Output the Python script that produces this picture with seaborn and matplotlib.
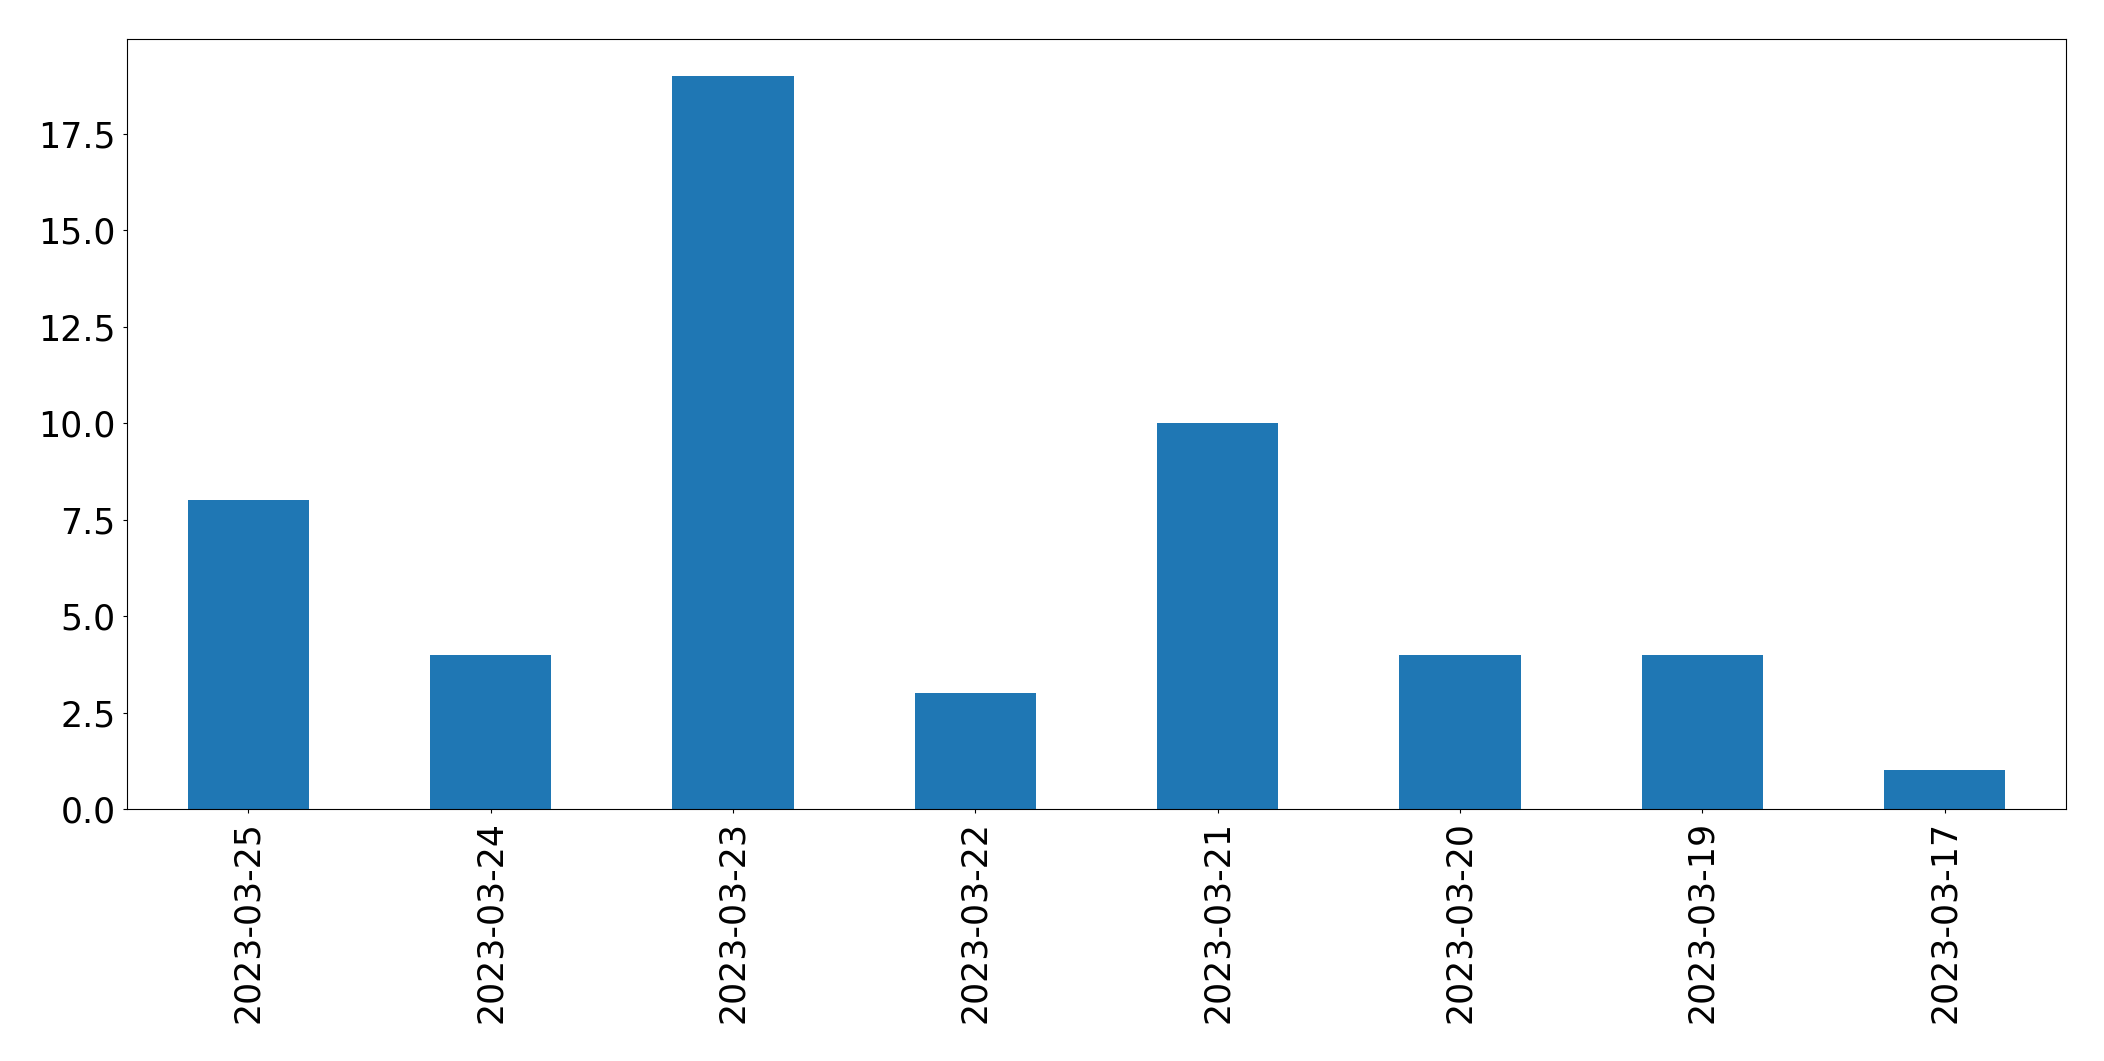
import matplotlib
matplotlib.use("Agg")
import matplotlib.pyplot as plt
import pandas as pd
import seaborn as sns

dates = ["2023-03-25", "2023-03-24", "2023-03-23", "2023-03-22",
         "2023-03-21", "2023-03-20", "2023-03-19", "2023-03-17"]
counts = [8, 4, 19, 3, 10, 4, 4, 1]

df = pd.DataFrame({"date": dates, "count": counts})

fig, ax = plt.subplots(figsize=(21.04, 10.61), dpi=100)
fig.subplots_adjust(left=0.0605, right=0.9818, top=0.963, bottom=0.2375)

sns.barplot(data=df, x="date", y="count", color="#1f77b4", saturation=1,
            width=0.5, ax=ax)

ax.set_xlim(-0.5, len(dates) - 0.5)
ax.set_ylim(0, max(counts) * 1.05)
ax.set_xlabel("")
ax.set_ylabel("")
ax.tick_params(axis="both", labelsize=25, length=3, pad=5.5)
ax.tick_params(axis="x", labelrotation=90)
for s in ax.spines.values():
    s.set_visible(True)
    s.set_color("black")

fig.savefig("out.png", dpi=100)
plt.close(fig)
